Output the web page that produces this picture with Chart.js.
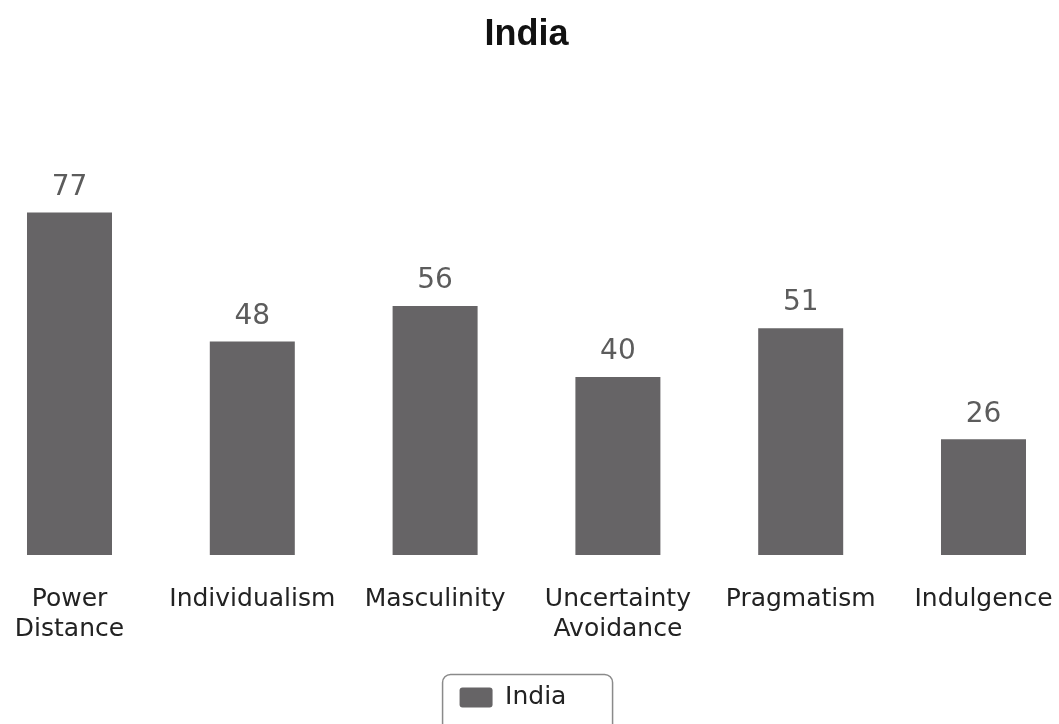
<!DOCTYPE html>
<html>
<head>
<meta charset="utf-8">
<title>India</title>
<script src="https://cdn.jsdelivr.net/npm/chart.js@4"></script>
<style>
  html, body { margin: 0; padding: 0; background: #ffffff; }
  #wrap { width: 1059px; height: 724px; position: relative; }
</style>
</head>
<body>
<div id="wrap"><canvas id="hofstede"></canvas></div>
<script>
// Hofstede dimensions for India
const dimensions = [['Power', 'Distance'], 'Individualism', 'Masculinity', ['Uncertainty', 'Avoidance'], 'Pragmatism', 'Indulgence'];
const scores = [77, 48, 56, 40, 51, 26];
const seriesName = 'India';

const barColor = '#666466';

// draws the score above every bar
const valueLabels = {
    id: 'valueLabels',
    afterDatasetsDraw(chart) {
        const ctx = chart.ctx;
        const meta = chart.getDatasetMeta(0);
        ctx.save();
        ctx.font = '28px "DejaVu Sans"';
        ctx.fillStyle = '#5c5c5c';
        ctx.textAlign = 'center';
        ctx.textBaseline = 'bottom';
        meta.data.forEach((bar, i) => {
            ctx.fillText(String(scores[i]), bar.x, bar.y - 11);
        });
        ctx.restore();
    }
};

// rounded frame round the legend, like the original
const legendFrame = {
    id: 'legendFrame',
    afterLayout(chart) {
        // the original item sits a little left of centre
        const lg = chart.legend;
        if (lg && lg.lineWidths && lg.lineWidths.length) lg.lineWidths[0] += 27;
    },
    afterDraw(chart) {
        const boxes = chart.legend && chart.legend.legendHitBoxes;
        if (!boxes || !boxes.length) return;
        const hb = boxes[0];
        const left = hb.left - 17;
        const cy = hb.top + hb.height / 2;
        const ctx = chart.ctx;
        ctx.save();
        ctx.strokeStyle = '#8a8a8a';
        ctx.lineWidth = 1.5;
        ctx.beginPath();
        ctx.roundRect(left, cy - 23, 170, 80, 8);
        ctx.stroke();
        ctx.restore();
    }
};

new Chart(document.getElementById('hofstede'), {
    type: 'bar',
    data: {
        labels: dimensions,
        datasets: [{
            label: seriesName,
            data: scores,
            backgroundColor: barColor,
            borderWidth: 0,
            categoryPercentage: 1,
            barPercentage: 0.465,
            clip: false
        }]
    },
    options: {
        responsive: true,
        maintainAspectRatio: false,
        animation: false,
        layout: { padding: { left: 69.5, right: 75.5, top: 0, bottom: 4 } },
        plugins: {
            title: {
                display: true,
                text: 'India',
                color: '#111111',
                font: { family: '"Liberation Sans"', size: 36, weight: 'bold' },
                padding: { top: 13, bottom: 54 }
            },
            legend: {
                position: 'bottom',
                labels: {
                    color: '#222222',
                    font: { family: '"DejaVu Sans"', size: 25 },
                    boxWidth: 33,
                    boxHeight: 20,
                    useBorderRadius: true,
                    borderRadius: 3,
                    padding: 10
                }
            },
            tooltip: { enabled: false }
        },
        scales: {
            x: {
                offset: false,
                grid: { display: false, drawTicks: false },
                border: { display: false },
                ticks: {
                    color: '#222222',
                    padding: 29,
                    maxRotation: 0,
                    autoSkip: false,
                    font: { family: '"DejaVu Sans"', size: 25, lineHeight: 1.2 }
                },
                afterFit(scale) {
                    scale.height = 120;
                    scale.paddingLeft = 0;
                    scale.paddingRight = 0;
                }
            },
            y: {
                display: false,
                min: 0,
                max: 100
            }
        }
    },
    plugins: [valueLabels, legendFrame]
});
</script>
</body>
</html>
